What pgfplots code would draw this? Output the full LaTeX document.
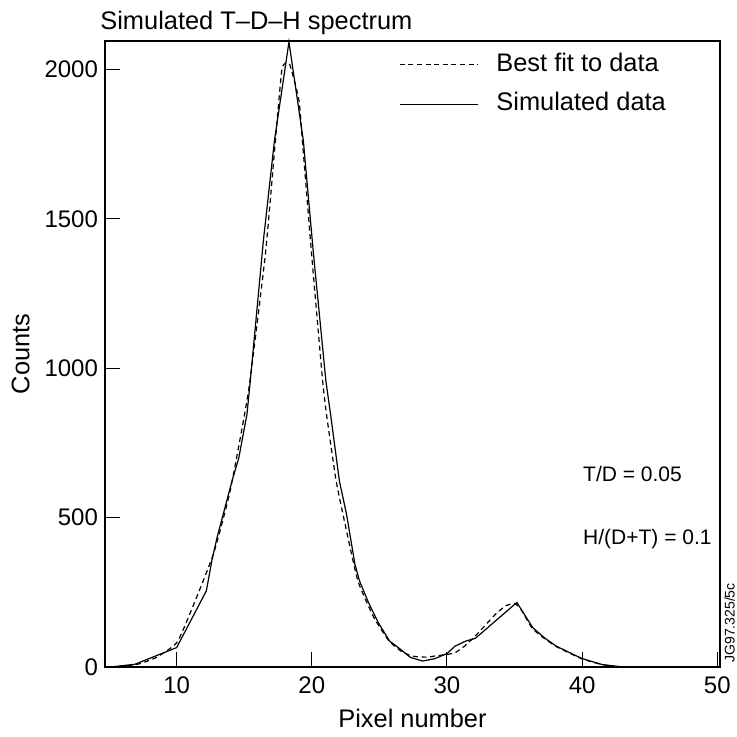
\documentclass[border=0pt]{standalone}
\usepackage{fontspec}
\setmainfont{Liberation Sans}
\usepackage{pgfplots}
\pgfplotsset{compat=1.18}
\newcommand\fs{\fontsize{12}{14}\selectfont}
\newcommand\fl{\fontsize{12.7}{15}\selectfont}
\begin{document}
\begin{tikzpicture}
\begin{axis}[
    name=ax, clip=false,
    width=307.5pt, height=313pt, scale only axis,
    xmin=4.7, xmax=50.2,
    ymin=0, ymax=2095,
    xtick={10,20,30,40,50},
    ytick={0,500,1000,1500,2000},
    tick align=inside, xtick pos=bottom, ytick pos=left,
    major tick length=7.5pt,
    tick style={black, line width=0.5pt},
    axis line style={black, line width=0.6pt},
    scaled ticks=false,
    /pgf/number format/1000 sep={},
    /pgf/number format/assume math mode=true,
    tick label style={font=\fs},
    xticklabel style={yshift=-1.5pt},
    xlabel={Pixel number}, ylabel={Counts},
    label style={font=\fl},
    xlabel style={at={(axis description cs:0.5,-0.0815)}, anchor=center},
    ylabel style={at={(axis description cs:-0.137,0.5)}, anchor=center},
    legend style={draw=none, fill=none, font=\fl, at={(rel axis cs:0.468,0.994)}, anchor=north west,
        nodes={inner sep=2pt, text height=9.2pt, text depth=2.5pt}, row sep=4pt,
        /tikz/every odd column/.append style={column sep=7pt}},
    legend cell align=left,
    legend image code/.code={\draw[#1] (0pt,0pt) -- (39pt,0pt);},
]
% best fit (dashed)
\addplot[black, line width=0.6pt, dash pattern=on 2.5pt off 1.8pt, smooth, tension=0.3] coordinates {
  (5.1,0) (7,8) (8.5,32) (10,81) (10.97,177) (12.72,378) (13.96,590) (15.32,925)
  (16.57,1384) (17.31,1763) (17.8,2003) (18.35,2018) (19.05,1897) (19.3,1763)
  (19.98,1384) (20.8,958) (21.12,835) (21.8,623) (22.5,470) (23.41,288) (24.6,165)
  (25.7,88) (26.7,50) (27.5,36) (28.5,33) (29.13,37) (30,42) (30.6,48) (31.3,70)
  (32.1,104) (33.6,177) (34.35,205) (34.97,212) (35.4,198) (36.3,130) (37.2,96)
  (38.1,68) (40,27) (41.5,8) (43,0) (50,0)
};
\addlegendentry{Best fit to data}
% simulated data (solid)
\addplot[black, line width=0.6pt] coordinates {
  (5.1,0) (6.9,9) (10.0,65) (12.2,255) (12.6,355) (13.0,435) (14.1,623) (14.6,700)
  (15.2,845) (15.45,958) (16.42,1428) (17.24,1763) (18.31,2092) (19.37,1763)
  (20.12,1384) (21.04,958) (21.42,835) (22.04,623) (22.57,511) (23.19,344)
  (23.53,288) (24.2,215) (24.9,150) (25.75,87) (26.4,65) (27.3,32) (28.2,20)
  (29.1,28) (30,45) (30.6,70) (31.4,87) (32.1,96) (35.17,216) (36.34,132)
  (37.2,98) (38.08,70) (39.95,29) (41.5,8) (43.06,0) (50,0)
};
\addlegendentry{Simulated data}
\node[anchor=west, font=\fontsize{10.5}{12}\selectfont, inner sep=0pt] at (axis cs:40.05,647) {T/D = 0.05};
\node[anchor=west, font=\fontsize{10.5}{12}\selectfont, inner sep=0pt] at (axis cs:40.05,429) {H/(D+T) = 0.1};
\node[anchor=base west, font=\fl, inner sep=0pt, xshift=-2.5pt, yshift=6pt] at (rel axis cs:0,1) {Simulated T--D--H spectrum};
\node[rotate=90, anchor=north west, inner sep=2pt, font=\fontsize{7}{8}\selectfont] at (rel axis cs:1,0) {JG97.325/5c};
\end{axis}
\pgfresetboundingbox
\path[use as bounding box] ([xshift=-52.5pt,yshift=-34.5pt]ax.south west) rectangle ([xshift=8.5pt,yshift=20.5pt]ax.north east);
\end{tikzpicture}
\end{document}
